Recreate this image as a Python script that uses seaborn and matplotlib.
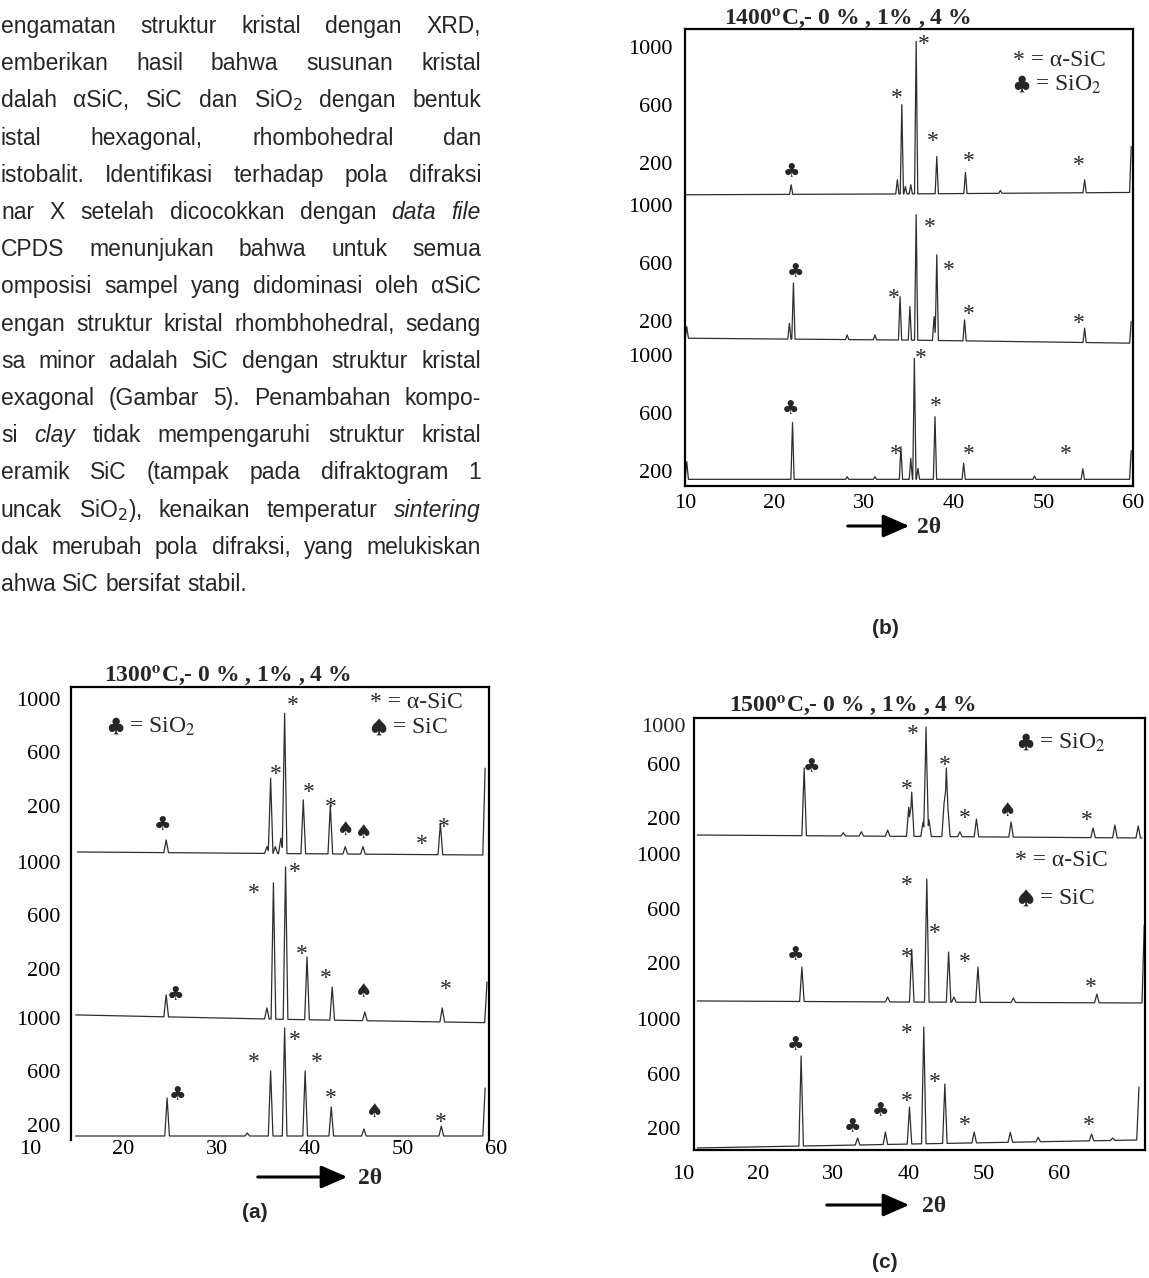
import numpy as np
import pandas as pd
import seaborn as sns
import matplotlib
matplotlib.use("Agg")
import matplotlib.pyplot as plt
from matplotlib.patches import FancyArrowPatch
from matplotlib.transforms import IdentityTransform

# ---------------- page text (left column, cut at the left edge) ----------------
para_lines = [
    "engamatan struktur kristal dengan XRD,",
    "emberikan hasil bahwa susunan kristal",
    "dalah αSiC, SiC dan SiO$_2$ dengan bentuk",
    "istal hexagonal, rhombohedral dan",
    "istobalit. Identifikasi terhadap pola difraksi",
    "nar X setelah dicocokkan dengan _data_ _file_",
    "CPDS menunjukan bahwa untuk semua",
    "omposisi sampel yang didominasi oleh αSiC",
    "engan struktur kristal rhombhohedral, sedang",
    "sa minor adalah SiC dengan struktur kristal",
    "exagonal (Gambar 5). Penambahan kompo-",
    "si _clay_ tidak mempengaruhi struktur kristal",
    "eramik SiC (tampak pada difraktogram 1",
    "uncak SiO$_2$), kenaikan temperatur _sintering_",
    "dak merubah pola difraksi, yang melukiskan",
    "ahwa SiC bersifat stabil.",
]

tick_vals = [200, 600, 1000]
x_ticks = [10, 20, 30, 40, 50, 60]

# ---------------- (b) 1400 C : baseline, peaks (2theta, counts) and markers ----------------
b1_base_t = [10.0, 35.0, 59.6]
b1_base_v = [-21, -15, -5]
b1_peak_t = [21.85, 33.7, 34.2, 34.6, 35.2, 35.8, 38.1, 41.3, 45.2, 54.6, 59.8]
b1_peak_v = [48, 82, 600, 36, 48, 1037, 243, 133, 9, 82, 312]
b1_tag_t = [21.85, 33.6, 36.7, 37.6, 41.7, 53.9]
b1_tag_v = [140, 681, 1053, 386, 248, 220]
b1_tag_s = ["♣", "*", "*", "*", "*", "*"]

b2_base_t = [10.0, 35.0, 59.6]
b2_base_v = [83, 70, 49]
b2_peak_t = [10.2, 21.65, 22.1, 28.1, 31.2, 34.0, 35.1, 35.8, 37.8, 38.1, 41.2, 54.6, 59.8]
b2_peak_v = [163, 186, 463, 106, 106, 370, 301, 934, 232, 658, 209, 152, 198]
b2_tag_t = [22.3, 33.3, 37.3, 39.4, 41.7, 54.0]
b2_tag_v = [543, 394, 888, 589, 283, 221]
b2_tag_s = ["♣", "*", "*", "*", "*", "*"]

b3_base_t = [10.0, 35.0, 59.6]
b3_base_v = [140, 140, 140]
b3_peak_t = [10.2, 22.0, 28.1, 31.2, 34.1, 35.2, 35.6, 36.0, 37.9, 41.1, 49.0, 54.4, 59.8]
b3_peak_v = [262, 531, 158, 158, 365, 285, 975, 216, 572, 251, 163, 213, 338]
b3_tag_t = [21.8, 33.5, 36.3, 38.0, 41.7, 52.5]
b3_tag_v = [630, 347, 1010, 681, 347, 347]
b3_tag_s = ["♣", "*", "*", "*", "*", "*"]

# ---------------- (a) 1300 C ----------------
a1_base_t = [15.1, 37.0, 58.6]
a1_base_v = [-146, -158, -169]
a1_peak_t = [24.6, 35.4, 35.8, 36.3, 36.9, 37.3, 39.3, 42.2, 43.8, 45.7, 54.0, 58.8]
a1_peak_v = [-56, -106, 407, -106, -43, 894, 244, 207, -106, -106, 69, 482]
a1_tag_t = [24.2, 36.4, 38.2, 39.9, 42.3, 43.8, 45.8, 52.0, 54.4]
a1_tag_v = [57, 474, 994, 344, 231, 24, -1, -51, 81]
a1_tag_s = ["♣", "*", "*", "*", "*", "♠", "♠", "*", "*"]

a2_base_t = [14.9, 37.0, 58.7]
a2_base_v = [-146, -179, -204]
a2_peak_t = [24.6, 35.4, 36.1, 37.4, 39.7, 42.4, 45.9, 54.2, 59.0]
a2_peak_v = [4, -94, 844, 964, 289, 64, -124, -94, 101]
a2_tag_t = [25.6, 34.0, 38.4, 39.1, 41.7, 45.8, 54.6]
a2_tag_v = [4, 804, 966, 346, 166, 28, 86]
a2_tag_s = ["♣", "*", "*", "*", "*", "♠", "*"]

a3_base_t = [14.9, 37.0, 58.6]
a3_base_v = [116, 116, 116]
a3_peak_t = [24.7, 33.3, 35.8, 37.3, 39.5, 42.3, 45.8, 54.1, 58.8]
a3_peak_v = [401, 138, 604, 926, 604, 334, 169, 191, 476]
a3_tag_t = [25.8, 34.0, 38.4, 40.7, 42.3, 47.0, 54.0]
a3_tag_v = [424, 706, 874, 706, 436, 298, 261]
a3_tag_s = ["♣", "*", "*", "*", "*", "♠", "*"]

# ---------------- (c) 1500 C ----------------
c1_base_t = [11.9, 40.0, 71.0]
c1_base_v = [75, 65, 53]
c1_peak_t = [26.1, 31.3, 33.7, 37.2, 40.0, 40.4, 41.9, 42.3, 42.7, 44.7, 45.0, 45.2,
             46.8, 49.0, 53.6, 64.5, 67.4, 70.5]
c1_peak_v = [571, 92, 99, 112, 282, 393, 171, 874, 186, 312, 571, 284,
             99, 193, 171, 127, 149, 142]
c1_tag_t = [27.1, 39.7, 40.6, 44.8, 47.4, 53.2, 63.6]
c1_tag_v = [580, 452, 857, 630, 240, 260, 223]
c1_tag_s = ["♣", "*", "*", "*", "*", "♠", "*"]

c2_base_t = [11.9, 40.0, 71.0]
c2_base_v = [-84, -92, -99]
c2_peak_t = [25.8, 37.2, 40.4, 42.4, 45.3, 46.0, 49.2, 53.9, 65.0, 71.3]
c2_peak_v = [167, -55, 300, 818, 278, -55, 167, -62, -33, 478]
c2_tag_t = [25.0, 39.7, 39.7, 43.5, 47.4, 64.2]
c2_tag_v = [256, 280, 811, 454, 239, 58]
c2_tag_s = ["♣", "*", "*", "*", "*", "*"]

c3_base_t = [11.9, 40.0, 70.4]
c3_base_v = [49, 78, 108]
c3_peak_t = [25.7, 33.2, 36.9, 40.1, 42.0, 44.8, 48.7, 53.5, 57.2, 64.3, 67.1, 70.6]
c3_peak_v = [730, 123, 167, 352, 944, 522, 167, 165, 128, 152, 123, 500]
c3_tag_t = [25.0, 32.6, 36.3, 39.7, 39.7, 43.5, 47.4, 63.9]
c3_tag_v = [811, 206, 323, 434, 935, 576, 256, 256]
c3_tag_s = ["♣", "♣", "♣", "*", "*", "*", "*", "*"]

# ---------------- figure ----------------
W, H = 1149, 1278
sns.set_theme(style="white")
plt.rcParams["font.family"] = ["Liberation Serif", "DejaVu Sans"]
plt.rcParams["mathtext.fontset"] = "stix"
LINE = "#2e2e2e"
SERIF = ["Liberation Serif", "DejaVu Sans"]
TITLE_FS = 17

fig = plt.figure(figsize=(W / 100, H / 100), dpi=100)


def fx(px):
    return px / W


def fy(py):
    return 1 - py / H


def ftext(px, py, s, **kw):
    return fig.text(fx(px), fy(py), s, **kw)


def spectrum(base_t, base_v, peak_t, peak_v, hw):
    # baseline with triangular peaks on top of it
    bt, bv = np.array(base_t), np.array(base_v, dtype=float)
    pt, pv = np.array(peak_t), np.array(peak_v, dtype=float)
    end = max(bt.max(), pt.max())
    xs = np.unique(np.concatenate([bt, pt, pt - hw, pt + hw]))
    xs = xs[(xs >= bt.min()) & (xs <= end)]
    base = np.interp(xs, bt, bv)
    h = pv - np.interp(pt, bt, bv)
    tri = h[None, :] * np.clip(1 - np.abs(xs[:, None] - pt[None, :]) / hw, 0, None)
    ys = base + np.maximum(tri.max(axis=1), 0)
    return pd.DataFrame({"two_theta": xs, "intensity": ys})


def draw_panel(ax, traces, offsets, hw, xlim, ytop, tick_len, xpad):
    for tr, off in zip(traces, offsets):
        bt, bv, pt, pv, tt, tv, ts = tr
        df = spectrum(bt, bv, pt, pv, hw)
        df["intensity"] += off
        sns.lineplot(data=df, x="two_theta", y="intensity", ax=ax, color=LINE,
                     lw=0.9, estimator=None, sort=False)
        for t, v, s in zip(tt, tv, ts):
            star = s == "*"
            ax.annotate(s, (t, off + v), xytext=(0, -4 if star else 0),
                        textcoords="offset points", ha="center", va="center",
                        fontsize=17 if star else 14,
                        family=SERIF if star else ["DejaVu Sans"])
    ticks = sorted((off + v, str(v)) for off in offsets for v in tick_vals)
    ax.set_yticks([p for p, _ in ticks])
    ax.set_yticklabels([l for _, l in ticks])
    ax.set_xticks(x_ticks)
    ax.set_xticklabels([str(v) for v in x_ticks])
    ax.set_xlim(*xlim)
    ax.set_ylim(0, ytop)
    ax.set_xlabel("")
    ax.set_ylabel("")
    ax.set_facecolor("none")
    ax.tick_params(axis="y", direction="inout", length=tick_len, width=1.6,
                   labelsize=16, pad=1, colors="black")
    ax.tick_params(axis="x", length=0, labelsize=16, pad=xpad, colors="black")
    for sp in ax.spines.values():
        sp.set_linewidth(1.6)
        sp.set_color("black")


def arrow(x0, x1, py, label_x):
    fig.add_artist(FancyArrowPatch((fx(x0), fy(py)), (fx(x1), fy(py)),
                                   transform=fig.transFigure,
                                   arrowstyle="-|>,head_length=0.8,head_width=0.35",
                                   mutation_scale=20, lw=2.2, color="black"))
    ftext(label_x, py + 1, "2θ", ha="left", va="center", fontsize=17,
          fontweight="bold", family=SERIF)


def panel_axes(left, top, right, bottom):
    return fig.add_axes([fx(left), fy(bottom), (right - left) / W, (bottom - top) / H])


# ---- panel (b) ----
ax_b = panel_axes(685, 29, 1133, 486)
draw_panel(ax_b,
           [(b1_base_t, b1_base_v, b1_peak_t, b1_peak_v, b1_tag_t, b1_tag_v, b1_tag_s),
            (b2_base_t, b2_base_v, b2_peak_t, b2_peak_v, b2_tag_t, b2_tag_v, b2_tag_s),
            (b3_base_t, b3_base_v, b3_peak_t, b3_peak_v, b3_tag_t, b3_tag_v, b3_tag_s)],
           offsets=[2029, 936, -94], hw=0.18, xlim=(10, 60), ytop=3151,
           tick_len=16, xpad=6)
ftext(848, 19, r"1400$^{\mathbf{o}}$C,- 0 % , 1% , 4 %", ha="center", va="center",
      fontsize=TITLE_FS, fontweight="bold", family=SERIF)
ftext(1013, 61, "* = α-SiC", ha="left", va="center", fontsize=17, family=SERIF)
ftext(1013, 85, r"$\clubsuit$ = SiO$_2$", ha="left", va="center", fontsize=17, family=SERIF)
arrow(845, 912, 526, 917)
ftext(885, 628, "(b)", ha="center", va="center", fontsize=15, fontweight="bold",
      family=["Liberation Sans"])

# ---- panel (a) ----
ax_a = panel_axes(30, 687, 501, 1140)
draw_panel(ax_a,
           [(a1_base_t, a1_base_v, a1_peak_t, a1_peak_v, a1_tag_t, a1_tag_v, a1_tag_s),
            (a2_base_t, a2_base_v, a2_peak_t, a2_peak_v, a2_tag_t, a2_tag_v, a2_tag_s),
            (a3_base_t, a3_base_v, a3_peak_t, a3_peak_v, a3_tag_t, a3_tag_v, a3_tag_s)],
           offsets=[2306, 1084, -86], hw=0.25, xlim=(10, 60.5), ytop=3397,
           tick_len=13, xpad=0)
ax_a.spines["left"].set_position(("data", 14.4))
ax_a.spines["right"].set_position(("data", 59.2))
ax_a.spines["top"].set_bounds(14.4, 59.2)
ax_a.spines["bottom"].set_visible(False)
ftext(228, 676, r"1300$^{\mathbf{o}}$C,- 0 % , 1% , 4 %", ha="center", va="center",
      fontsize=TITLE_FS, fontweight="bold", family=SERIF)
ftext(370, 703, "* = α-SiC", ha="left", va="center", fontsize=17, family=SERIF)
ftext(370, 727, r"$\spadesuit$ = SiC", ha="left", va="center", fontsize=17, family=SERIF)
ftext(107, 727, r"$\clubsuit$ = SiO$_2$", ha="left", va="center", fontsize=17, family=SERIF)
arrow(255, 350, 1177, 358)
ftext(255, 1212, "(a)", ha="center", va="center", fontsize=15, fontweight="bold",
      family=["Liberation Sans"])

# ---- panel (c) ----
ax_c = panel_axes(683, 718, 1145, 1150)
draw_panel(ax_c,
           [(c1_base_t, c1_base_v, c1_peak_t, c1_peak_v, c1_tag_t, c1_tag_v, c1_tag_s),
            (c2_base_t, c2_base_v, c2_peak_t, c2_peak_v, c2_tag_t, c2_tag_v, c2_tag_s),
            (c3_base_t, c3_base_v, c3_peak_t, c3_peak_v, c3_tag_t, c3_tag_v, c3_tag_s)],
           offsets=[2256, 1187, -34], hw=0.3, xlim=(10, 71.4), ytop=3197,
           tick_len=18, xpad=11)
ax_c.spines["left"].set_position(("data", 11.5))
ax_c.spines["top"].set_bounds(11.5, 71.4)
ax_c.spines["bottom"].set_bounds(11.5, 71.4)
ftext(686, 728, "1000", ha="right", va="center", fontsize=16, family=SERIF)
ftext(853, 706, r"1500$^{\mathbf{o}}$C,- 0 % , 1% , 4 %", ha="center", va="center",
      fontsize=TITLE_FS, fontweight="bold", family=SERIF)
ftext(1017, 743, r"$\clubsuit$ = SiO$_2$", ha="left", va="center", fontsize=17, family=SERIF)
ftext(1015, 860, "* = α-SiC", ha="left", va="center", fontsize=17, family=SERIF)
ftext(1017, 898, r"$\spadesuit$ = SiC", ha="left", va="center", fontsize=17, family=SERIF)
arrow(824, 912, 1205, 922)
ftext(885, 1262, "(c)", ha="center", va="center", fontsize=15, fontweight="bold",
      family=["Liberation Sans"])

# ---- justified paragraph ----
renderer = fig.canvas.get_renderer()
PARA_FS = 16.5
for i, line in enumerate(para_lines):
    words = line.split()
    base_y = H - (33 + 37.2 * i)
    arts = []
    for w in words:
        italic = w.startswith("_")
        arts.append(fig.text(0, base_y, w.strip("_"), transform=IdentityTransform(),
                             fontsize=PARA_FS, family=["Liberation Sans", "DejaVu Sans"],
                             style="italic" if italic else "normal", va="baseline",
                             math_fontfamily="dejavusans"))
    widths = [a.get_window_extent(renderer).width for a in arts]
    if i == len(para_lines) - 1:
        gap = 0.28 * PARA_FS * 100 / 72
    else:
        gap = (481 - 1 - sum(widths)) / (len(words) - 1)
    x = 1
    for a, wd in zip(arts, widths):
        a.set_x(x)
        x += wd + gap

fig.savefig("out.png", dpi=100)
